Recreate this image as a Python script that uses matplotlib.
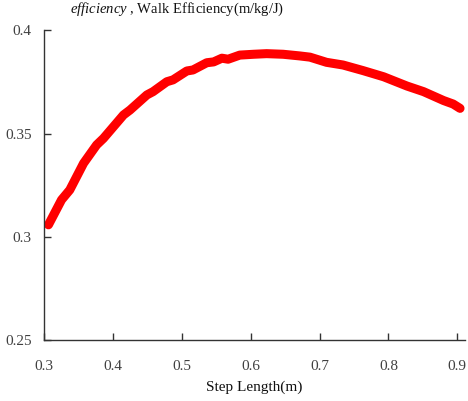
import matplotlib
matplotlib.use("Agg")
import matplotlib.pyplot as plt

plt.rcParams['font.family'] = ['Liberation Serif', 'DejaVu Serif']
plt.rcParams['mathtext.fontset'] = 'custom'
plt.rcParams['mathtext.it'] = 'Liberation Serif:italic'
plt.rcParams['mathtext.rm'] = 'Liberation Serif'

step_length = [0.306, 0.325, 0.337, 0.357, 0.376, 0.386, 0.415, 0.4245, 0.449, 0.458,
               0.478, 0.487, 0.507, 0.516, 0.536, 0.546, 0.558, 0.567, 0.584, 0.604,
               0.623, 0.647, 0.671, 0.686, 0.710, 0.734, 0.763, 0.793, 0.827, 0.851,
               0.880, 0.894, 0.904]
efficiency = [0.3058, 0.3179, 0.3227, 0.3356, 0.3445, 0.3477, 0.3590, 0.3614, 0.3687, 0.3703,
              0.3751, 0.3760, 0.3803, 0.3808, 0.3843, 0.3847, 0.3865, 0.3860, 0.3880, 0.3884,
              0.3887, 0.3884, 0.3876, 0.3870, 0.3845, 0.3832, 0.3805, 0.3775, 0.3730, 0.3703,
              0.3660, 0.3643, 0.3622]
x_ticks = [0.3, 0.4, 0.5, 0.6, 0.7, 0.8, 0.9]
y_ticks = [0.25, 0.3, 0.35, 0.4]
y_tick_labels = ['0.25', '0.3', '0.35', '0.4']

fig = plt.figure(figsize=(4.68, 4.01), dpi=100)
ax = fig.add_axes([0.0947, 0.152, 0.8989, 0.7724])
ax.plot(step_length, efficiency, color='#ff0000', lw=6.5, solid_capstyle='round', solid_joinstyle='round')
ax.set_xlim(0.3, 0.9112)
ax.set_ylim(0.25, 0.4)
ax.set_xticks(x_ticks)
ax.set_xticklabels([str(t) for t in x_ticks])
ax.set_yticks(y_ticks)
ax.set_yticklabels(y_tick_labels)
for s in ['top', 'right']:
    ax.spines[s].set_visible(False)
for s in ['left', 'bottom']:
    ax.spines[s].set_color('#333333')
    ax.spines[s].set_linewidth(1.0)
ax.tick_params(axis='both', direction='in', length=5, width=1, colors='#333333', labelsize=11, labelcolor='#404040')
ax.tick_params(axis='x', pad=14.5)
ax.tick_params(axis='y', pad=9)
ax.set_xlabel('Step Length(m)', fontsize=11, color='#111111', labelpad=5)
fig.text(0.378, 0.977, r'$\mathit{efficiency}$ , Walk Efficiency(m/kg/J)', ha='center', va='center',
         fontsize=10.5, color='#111111')
fig.savefig('out.png', dpi=100)
